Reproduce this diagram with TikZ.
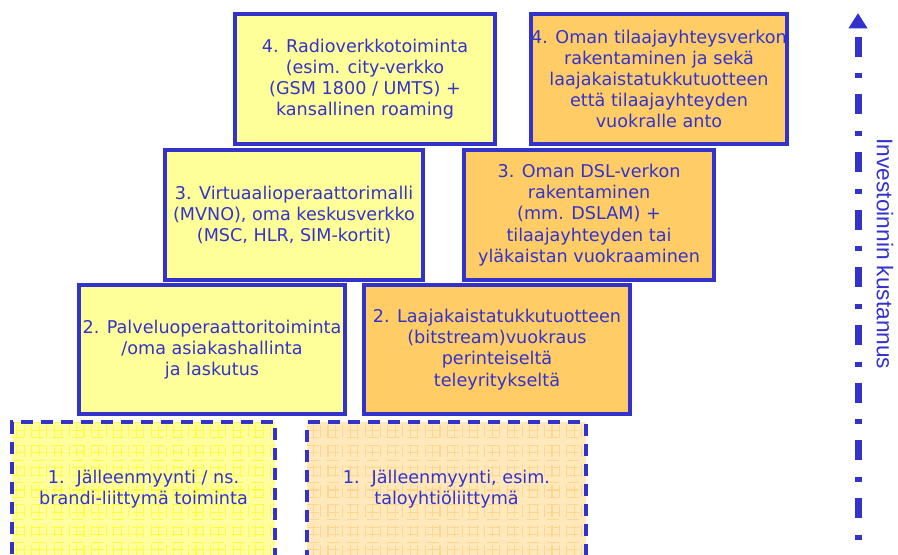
\documentclass[tikz,border=0pt]{standalone}
\usepackage{fontspec}
\setmainfont{DejaVu Sans}
\newfontfamily\arialfont{Liberation Sans}
\usepackage{xcolor}
\usetikzlibrary{arrows.meta}
\definecolor{ink}{RGB}{51,51,204}
\definecolor{lemon}{RGB}{255,255,153}
\definecolor{apricot}{RGB}{255,204,102}
\definecolor{lemongrid}{RGB}{255,255,60}
\definecolor{lemonbase}{RGB}{255,255,160}
\definecolor{apricotgrid}{RGB}{255,214,140}
\definecolor{apricotbase}{RGB}{255,232,188}

\begin{document}
\begin{tikzpicture}[x=0.75pt, y=-0.75pt,
  tier/.style={draw=ink, line width=3pt, align=center, text=ink, inner sep=0pt,
    font=\fontsize{13.2}{15.9}\selectfont},
  own/.style={tier, fill=lemon},
  net/.style={tier, fill=apricot},
  resale/.style={tier, dash pattern=on 9pt off 6pt, fill=#1base,
    path picture={\draw[#1grid, line width=0.8pt]
      (path picture bounding box.south west) grid[xstep=5.6pt, ystep=5.6pt] (path picture bounding box.north east);}},
  cost/.style={ink, line width=5.25pt, dash pattern=on 15pt off 12.5pt on 3.75pt off 12pt,
    dash phase=36.25pt, {Triangle[width=13.5pt, length=11.5pt]}-},
  lab/.style={font=\arialfont\fontsize{17}{20}\selectfont, text=ink, inner sep=1pt}]
\useasboundingbox (0,0) rectangle (898,555);
\clip (0,0) rectangle (898,555);
% level 4
\node[own, minimum width=195pt, minimum height=97.5pt] (radio) at (365,79)
  {4. Radioverkkotoiminta\\(esim. city-verkko\\(GSM 1800 / UMTS) +\\kansallinen roaming};
\node[net, minimum width=189pt, minimum height=97.5pt] (ownloop) at (659,79)
  {4. Oman tilaajayhteysverkon\\rakentaminen ja sekä\\laajakaistatukkutuotteen\\että tilaajayhteyden\\vuokralle anto};
% level 3
\node[own, minimum width=193.5pt, minimum height=97.5pt] (mvno) at (294,215)
  {3. Virtuaalioperaattorimalli\\(MVNO), oma keskusverkko\\(MSC, HLR, SIM-kortit)};
\node[net, minimum width=187.5pt, minimum height=97.5pt] (dslnet) at (589,215)
  {3. Oman DSL-verkon\\rakentaminen\\(mm. DSLAM) +\\tilaajayhteyden tai\\yläkaistan vuokraaminen};
% level 2
\node[own, minimum width=199.5pt, minimum height=96.75pt] (service) at (212,349.5)
  {2. Palveluoperaattoritoiminta\\/oma asiakashallinta\\ja laskutus};
\node[net, minimum width=199.5pt, minimum height=96.75pt] (bitstream) at (497,349.5)
  {2. Laajakaistatukkutuotteen\\(bitstream)vuokraus\\perinteiseltä\\teleyritykseltä};
% level 1
\node[resale=lemon, minimum width=197.25pt, minimum height=101pt] (brand) at (143.5,489.5)
  {1.\hspace{9pt}Jälleenmyynti / ns.\\brandi-liittymä toiminta};
\node[resale=apricot, minimum width=209.25pt, minimum height=101pt] (housing) at (446.5,489.5)
  {1.\hspace{9pt}Jälleenmyynti, esim.\\taloyhtiöliittymä};
% cost axis
\coordinate (tip) at (858,13);
\coordinate (base) at (858,562);
\draw[cost] (tip) -- (base);
\node[lab, rotate=-90] (costlab) at (885,254) {Investoinnin kustannus};
\end{tikzpicture}
\end{document}
